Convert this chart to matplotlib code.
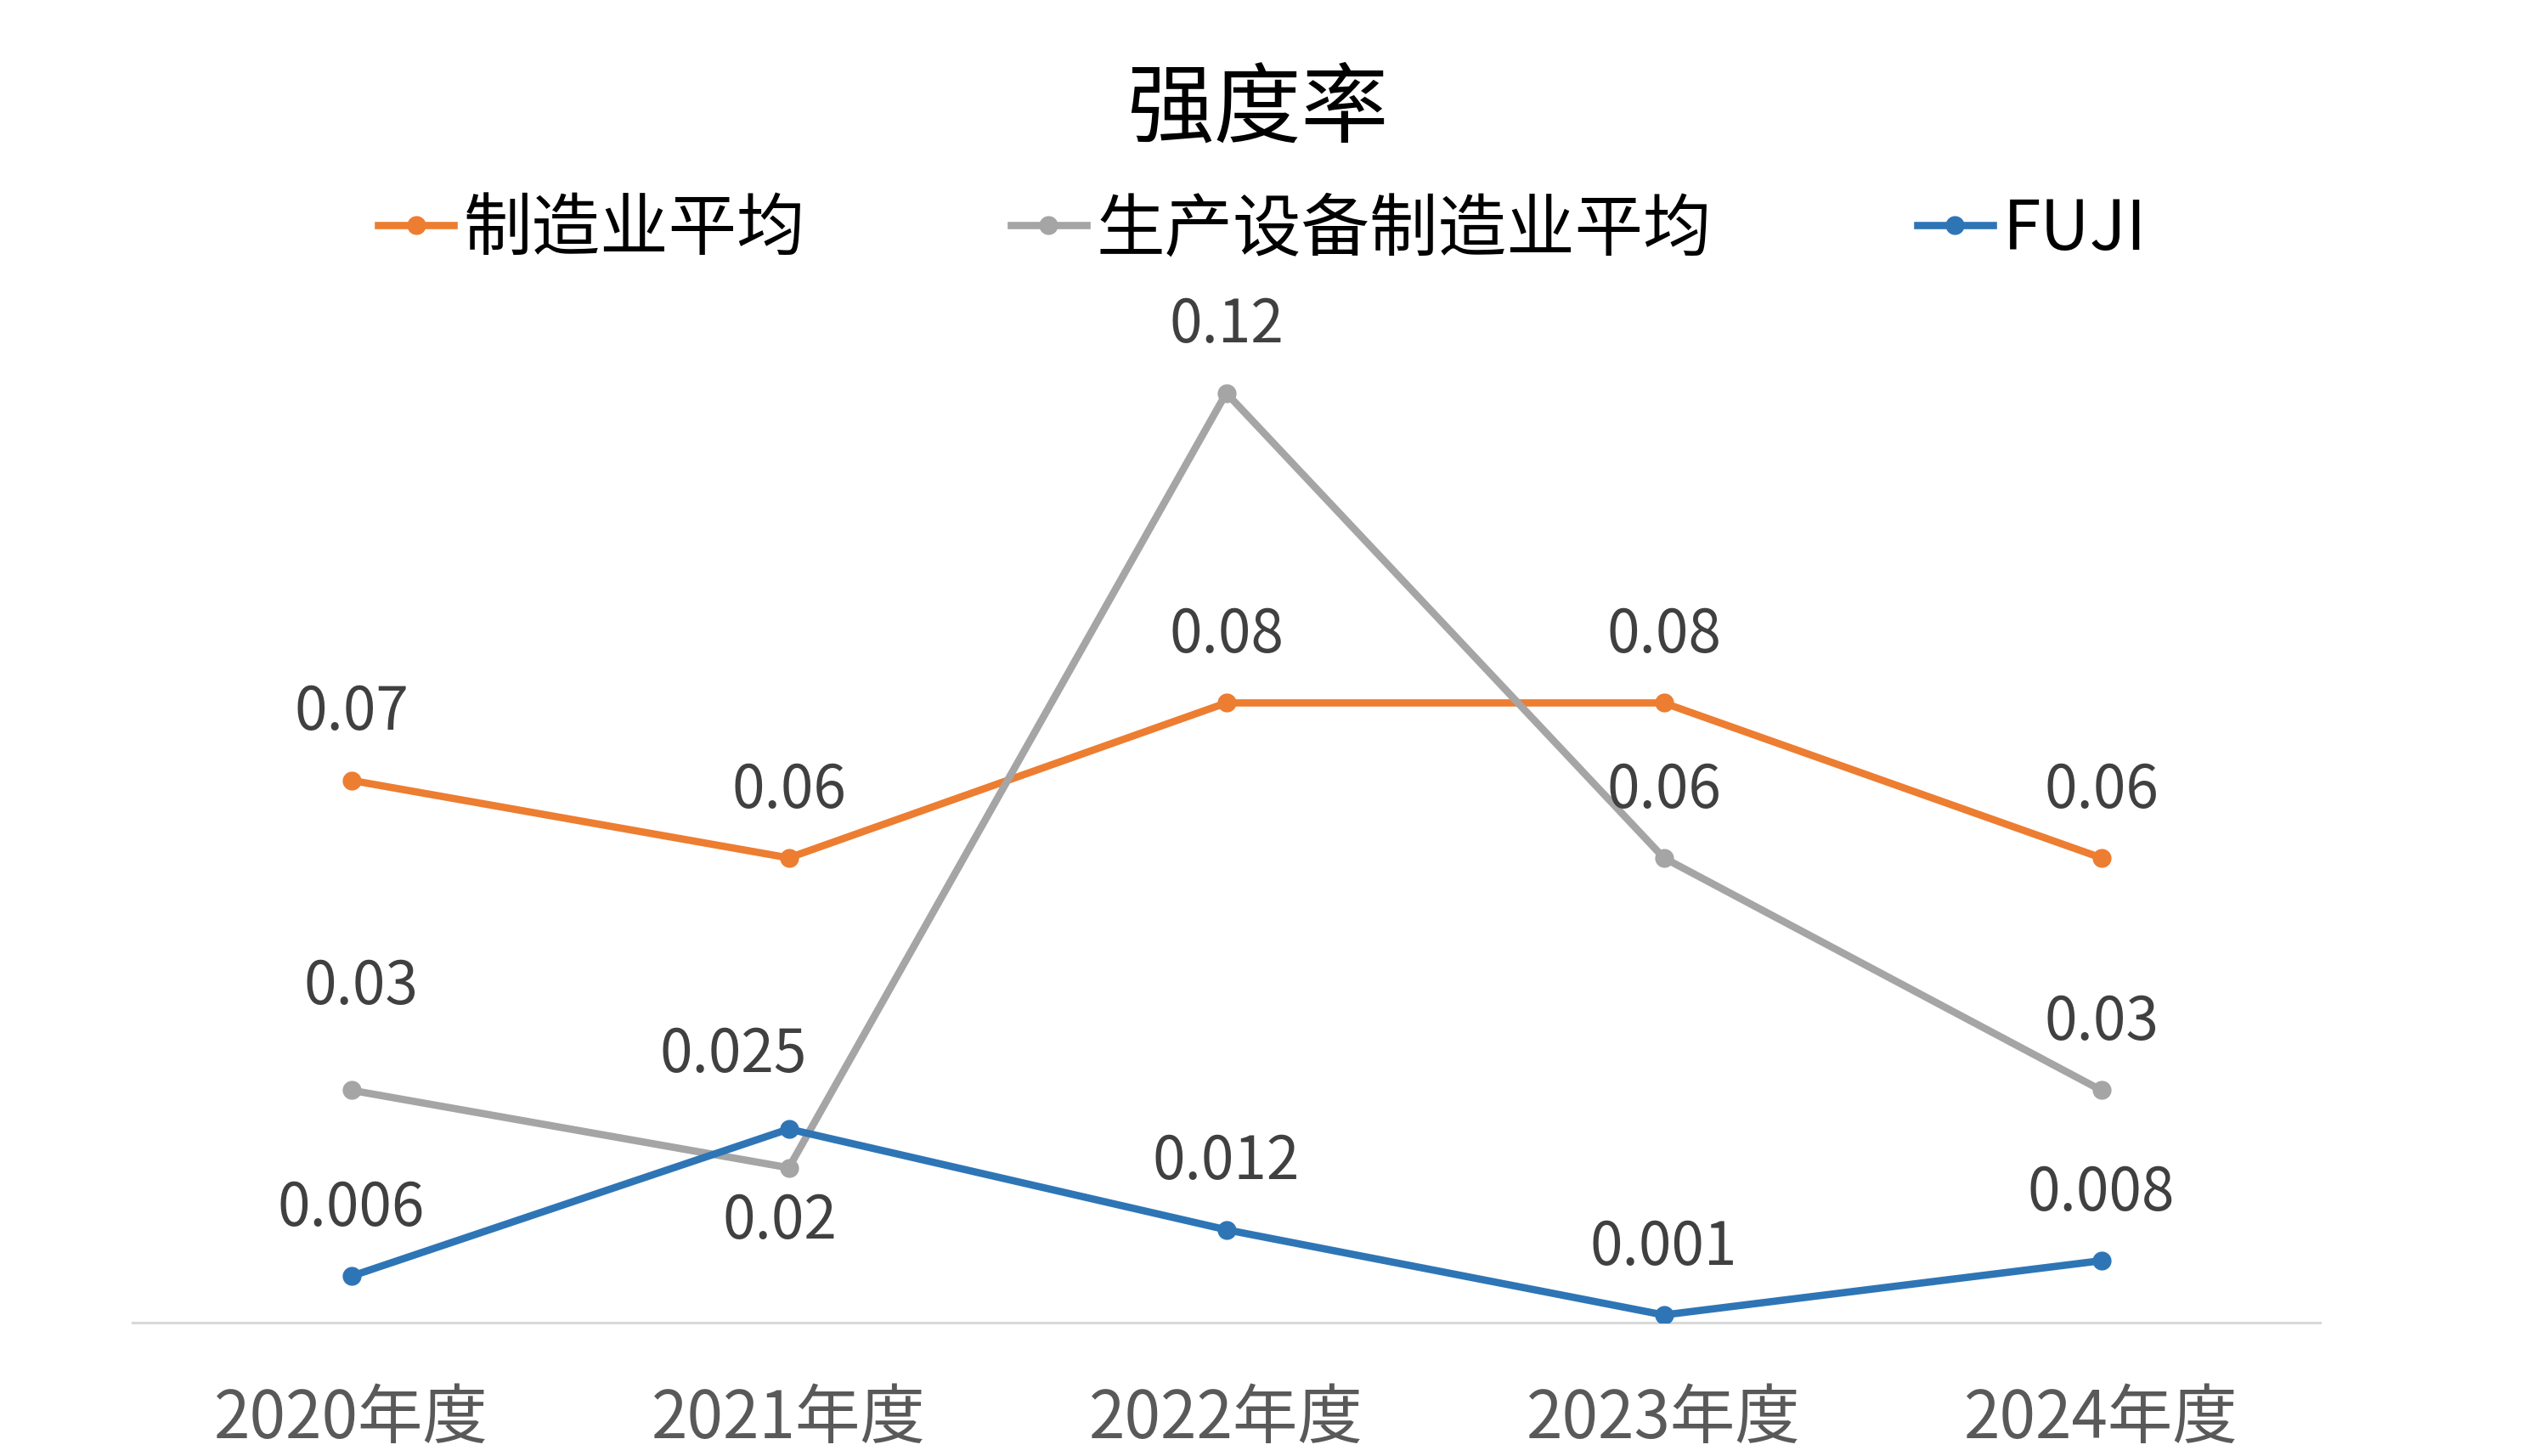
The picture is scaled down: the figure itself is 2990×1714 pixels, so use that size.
import matplotlib
matplotlib.use("Agg")
import matplotlib.pyplot as plt
import numpy as np

# data
years = ['2020年度', '2021年度', '2022年度', '2023年度', '2024年度']
mfg_avg = [0.07, 0.06, 0.08, 0.08, 0.06]
equip_avg = [0.03, 0.02, 0.12, 0.06, 0.03]
fuji = [0.006, 0.025, 0.012, 0.001, 0.008]
mfg_txt = ['0.07', '0.06', '0.08', '0.08', '0.06']
equip_txt = ['0.03', '0.02', '0.12', '0.06', '0.03']
fuji_txt = ['0.006', '0.025', '0.012', '0.001', '0.008']

# label offsets in pixels (dx, dy)
mfg_off = [(0, 80)] * 5
equip_off = [(11, 122), (-11, -63), (0, 80), (0, 80), (0, 80)]
fuji_off = [(0, 80), (-65, 88), (0, 80), (0, 80), (0, 80)]

cjk = ['Noto Sans CJK JP', 'DejaVu Sans']
plt.rcParams['font.family'] = cjk

fig = plt.figure(figsize=(29.9, 17.15), dpi=100)
ax = fig.add_axes([0.0522, 0.0915, 0.8612, 0.7445])

x = np.arange(len(years))
series = [
    (mfg_avg, mfg_txt, mfg_off, '#ED7D31', '制造业平均'),
    (equip_avg, equip_txt, equip_off, '#A5A5A5', '生产设备制造业平均'),
    (fuji, fuji_txt, fuji_off, '#2E75B6', 'FUJI'),
]
for vals, txts, offs, col, name in series:
    ax.plot(x, vals, '-o', color=col, lw=6.2, markersize=15, label=name, zorder=3)
    for xi, v, t, o in zip(x, vals, txts, offs):
        ax.annotate(t, (xi, v), xytext=o, textcoords='offset pixels',
                    ha='center', va='center', fontsize=50, color='#404040', zorder=5)

ax.set_xlim(-0.5, 4.5)
ax.set_ylim(0, 0.14)
ax.set_xticks(x)
ax.set_xticklabels(years, fontsize=55, color='#595959')
ax.tick_params(axis='x', length=0, pad=53)
ax.set_yticks([])
for s in ['top', 'right', 'left']:
    ax.spines[s].set_visible(False)
ax.spines['bottom'].set_color('#D9D9D9')
ax.spines['bottom'].set_linewidth(2.2)

fig.text(0.495, 0.924, '强度率', ha='center', va='center', fontsize=74, color='black',
         family=['Noto Sans CJK SC', 'DejaVu Sans'], fontweight='light')

leg = fig.legend(loc='center', bbox_to_anchor=(0.497, 0.842), ncol=3, frameon=False,
                 handlelength=1.1, handletextpad=0.15, columnspacing=3.0,
                 prop={'family': ['Noto Sans CJK SC', 'DejaVu Sans'], 'size': 58,
                       'weight': 'medium'})

fig.savefig('out.png', dpi=100)
